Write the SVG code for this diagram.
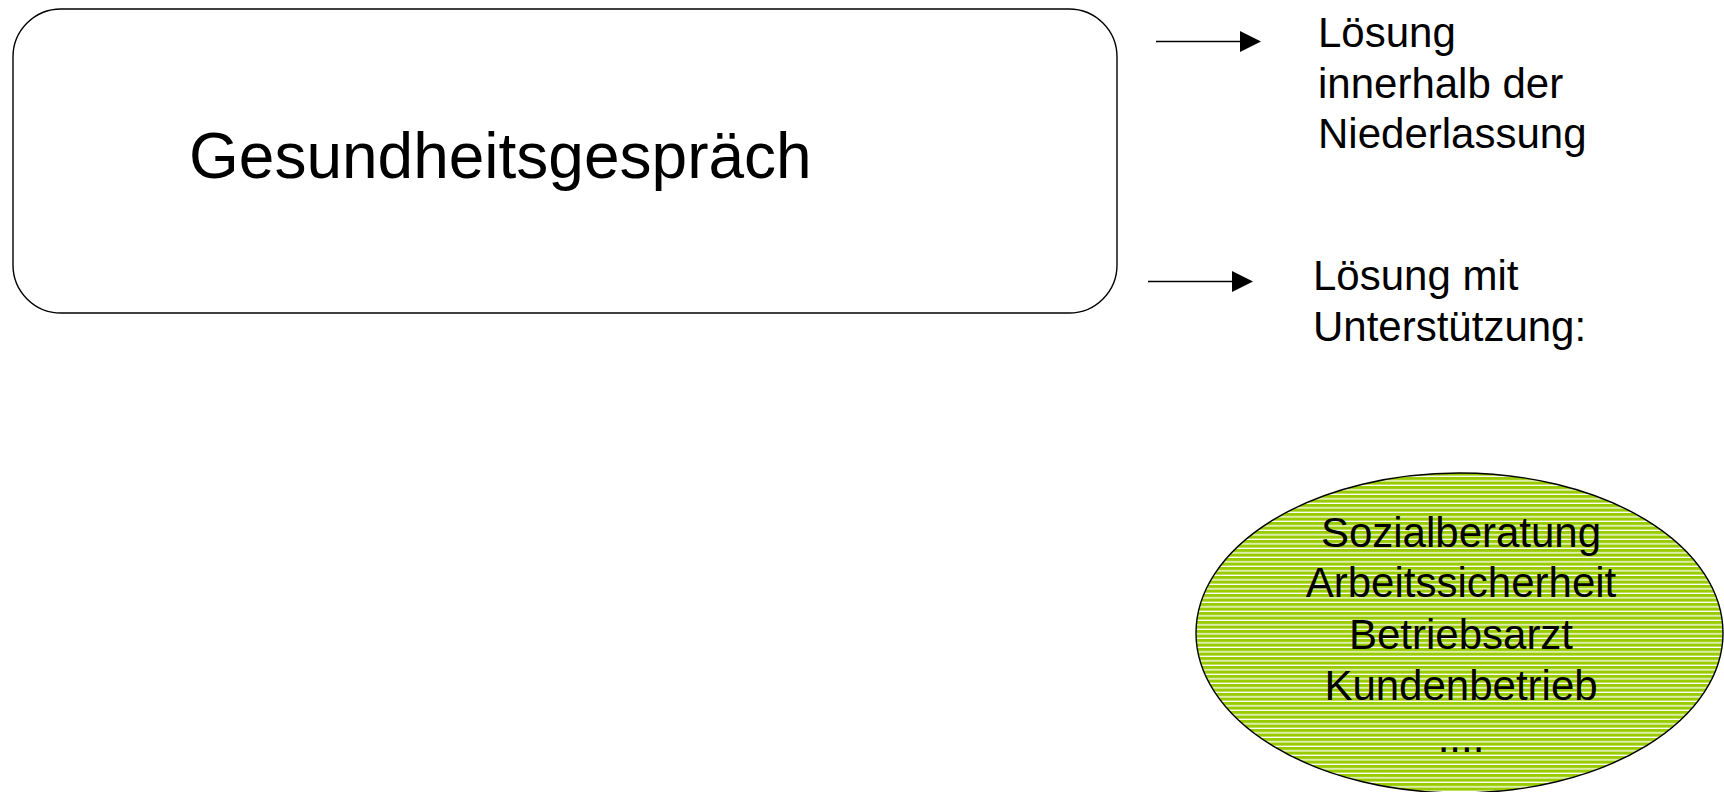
<svg xmlns="http://www.w3.org/2000/svg" width="1724" height="792" viewBox="0 0 1724 792">
<style>
text { font-family: "Liberation Sans", Arial, sans-serif; fill: #000; }
.lbl { font-size: 42px; }
.conn { stroke: #000; stroke-width: 1.4; fill: none; }
.head { fill: #000; stroke: none; }
</style>
<defs>
<pattern id="stripes" patternUnits="userSpaceOnUse" x="0" y="0" width="20" height="4.5">
<rect x="0" y="0" width="20" height="4.5" fill="#99CC00"/>
<rect x="0" y="3.2" width="20" height="1.3" fill="#ffffff"/>
</pattern>
<path id="ah" d="M-21,-10.5 L0,0 L-21,10.5 Z"/>
</defs>
<rect width="1724" height="792" fill="#fff"/>
<g id="node-gespraech">
<rect x="13" y="9" width="1104" height="304" rx="48" ry="48" fill="#fff" stroke="#000" stroke-width="1.4"/>
<text x="189" y="178" font-size="64">Gesundheitsgespräch</text>
</g>
<g id="connectors">
<line class="conn" x1="1156" y1="41.5" x2="1245" y2="41.5"/>
<use href="#ah" class="head" x="1261" y="41.5"/>
<line class="conn" x1="1148" y1="281.5" x2="1237" y2="281.5"/>
<use href="#ah" class="head" x="1253" y="281.5"/>
</g>
<g id="node-loesung-innerhalb">
<text class="lbl" x="1318" y="47">Lösung</text>
<text class="lbl" x="1318" y="98">innerhalb der</text>
<text class="lbl" x="1318" y="148">Niederlassung</text>
</g>
<g id="node-loesung-mit">
<text class="lbl" x="1313" y="290">Lösung mit</text>
<text class="lbl" x="1313" y="341">Unterstützung:</text>
</g>
<g id="node-unterstuetzung">
<ellipse cx="1459.5" cy="633" rx="263.5" ry="160" fill="url(#stripes)" stroke="#000" stroke-width="1.4"/>
<g text-anchor="middle">
<text class="lbl" x="1461" y="547">Sozialberatung</text>
<text class="lbl" x="1461" y="597">Arbeitssicherheit</text>
<text class="lbl" x="1461" y="649">Betriebsarzt</text>
<text class="lbl" x="1461" y="700">Kundenbetrieb</text>
<text class="lbl" x="1461" y="752">....</text>
</g>
</g>
</svg>
